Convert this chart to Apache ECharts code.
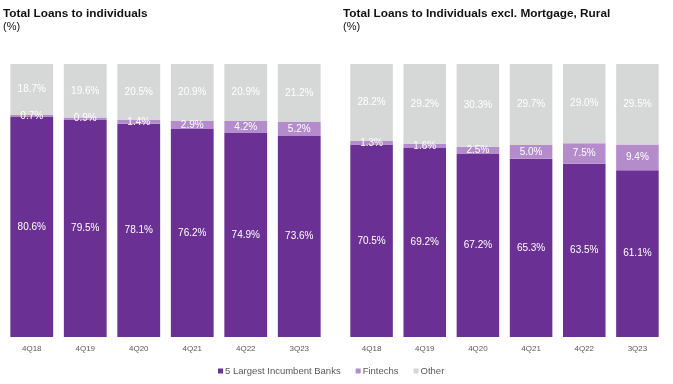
<!DOCTYPE html>
<html><head><meta charset="utf-8">
<script src="https://cdn.jsdelivr.net/npm/echarts@6/dist/echarts.min.js"></script>
<style>html,body{margin:0;padding:0;background:#fff}#c{width:673px;height:384px}</style>
</head><body><div id="c"></div>
<script>
const categories = ['4Q18','4Q19','4Q20','4Q21','4Q22','3Q23'];
const leftBanks = [80.6,79.5,78.1,76.2,74.9,73.6];
const leftFintechs = [0.7,0.9,1.4,2.9,4.2,5.2];
const leftOther = [18.7,19.6,20.5,20.9,20.9,21.2];
const rightBanks = [70.5,69.2,67.2,65.3,63.5,61.1];
const rightFintechs = [1.3,1.6,2.5,5.0,7.5,9.4];
const rightOther = [28.2,29.2,30.3,29.7,29.0,29.5];
const seriesNames = ['5 Largest Incumbent Banks','Fintechs','Other'];
const colors = ['#6B3094','#B48CCB','#D6D7D7'];

const font = 'Liberation Sans, Arial, sans-serif';
const chart = echarts.init(document.getElementById('c'));
function mk(name, data, idx, ci){
  return {name:name, type:'bar', stack:'s'+idx, xAxisIndex:idx, yAxisIndex:idx, data:data,
    barCategoryGap:'20%', itemStyle:{color:colors[ci]},
    label:{show:true, position:'inside', color:'#fff', fontSize:10, fontFamily:font, formatter:p=>p.value.toFixed(1)+'%'}};
}
const xa = i => ({type:'category', gridIndex:i, data:categories, axisLine:{show:false}, axisTick:{show:false},
  axisLabel:{color:'#595959', fontSize:8, fontFamily:font, margin:8}});
const ya = i => ({type:'value', gridIndex:i, min:0, max:100, show:false, splitLine:{show:false}});
chart.setOption({
  animation:false,
  color:colors,
  title:[
    {text:'Total Loans to individuals', subtext:'(%)', left:-2, top:3, itemGap:1,
     textStyle:{fontSize:11.8, fontWeight:'bold', color:'#111', fontFamily:font},
     subtextStyle:{fontSize:11, color:'#111', fontFamily:font}},
    {text:'Total Loans to Individuals excl. Mortgage, Rural', subtext:'(%)', left:338, top:3, itemGap:1,
     textStyle:{fontSize:11.8, fontWeight:'bold', color:'#111', fontFamily:font},
     subtextStyle:{fontSize:11, color:'#111', fontFamily:font}}
  ],
  legend:{data:seriesNames, left:213, top:361, itemWidth:5, itemHeight:5, itemGap:15,
    icon:'rect', textStyle:{color:'#595959', fontSize:9.5, fontFamily:font, padding:[0,0,0,-3]}},
  grid:[{left:5, width:321, top:64, bottom:47},{left:345, width:319, top:64, bottom:47}],
  xAxis:[xa(0), xa(1)],
  yAxis:[ya(0), ya(1)],
  series:[
    mk(seriesNames[0], leftBanks, 0, 0), mk(seriesNames[1], leftFintechs, 0, 1), mk(seriesNames[2], leftOther, 0, 2),
    mk(seriesNames[0], rightBanks, 1, 0), mk(seriesNames[1], rightFintechs, 1, 1), mk(seriesNames[2], rightOther, 1, 2)
  ]
});
</script></body></html>
